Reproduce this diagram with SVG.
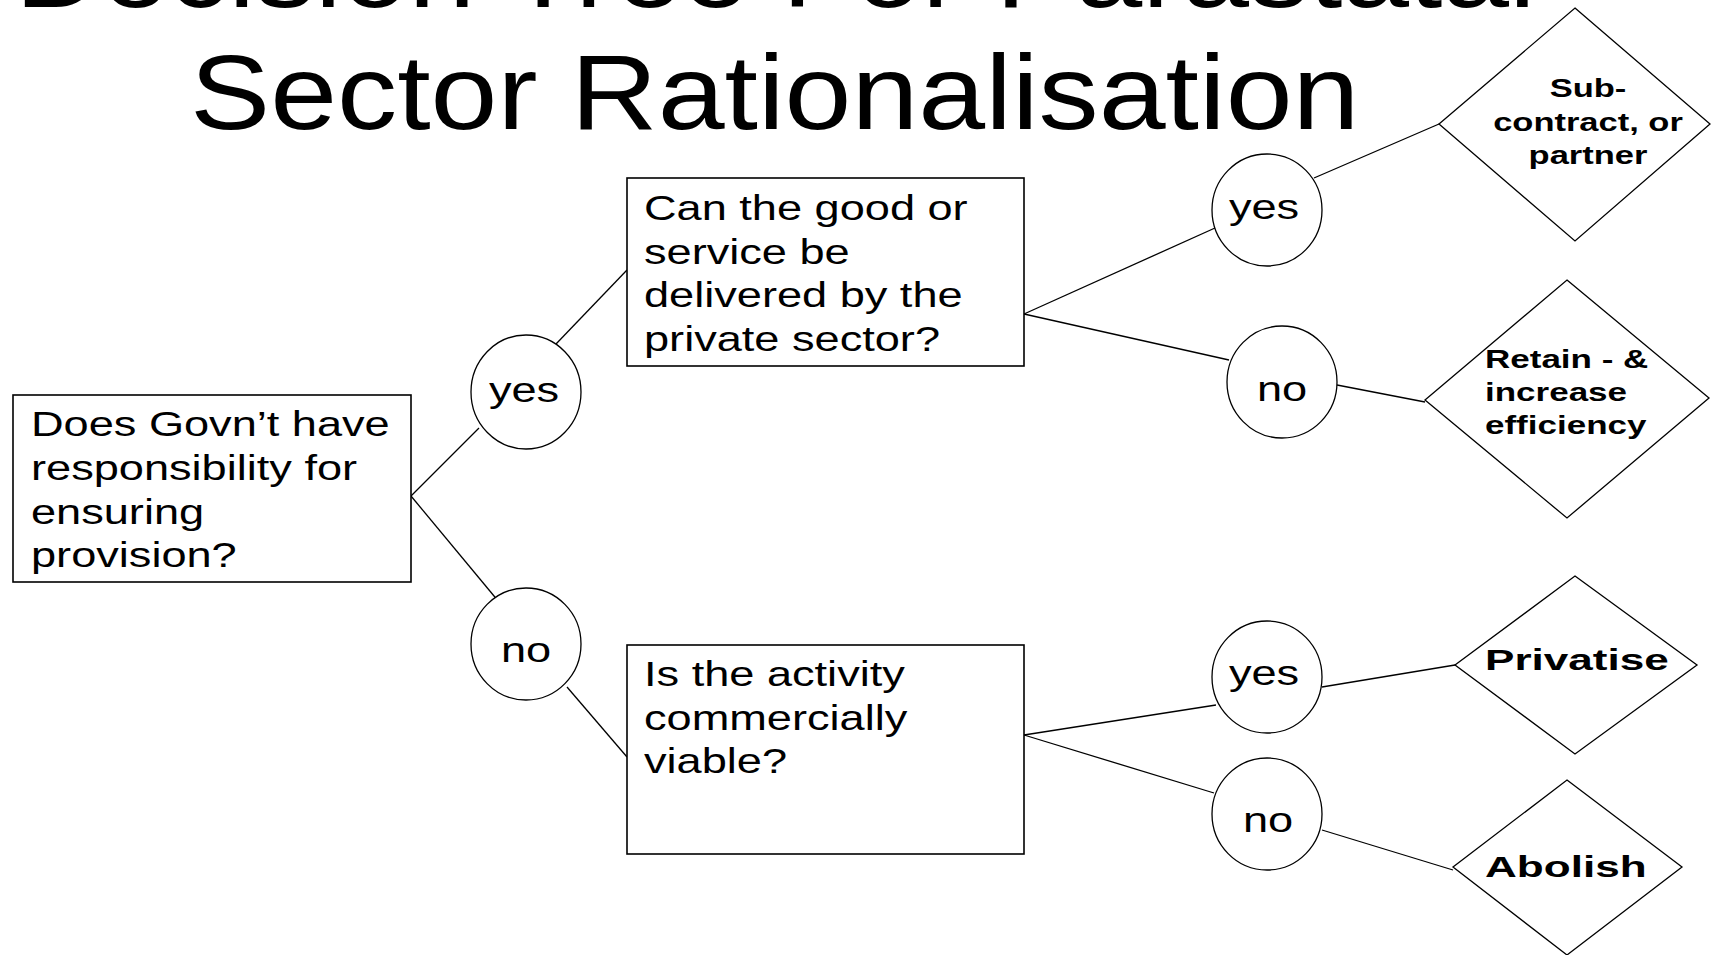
<svg xmlns="http://www.w3.org/2000/svg" width="1716" height="955" viewBox="0 0 1716 955">
<style>
  .bg{fill:#ffffff}
  .box{fill:#ffffff;stroke:#000;stroke-width:1.6}
  .circ{fill:#ffffff;stroke:#000;stroke-width:1.3}
  .dia{fill:#ffffff;stroke:#000;stroke-width:1.3}
  .edge{stroke:#000;stroke-width:1.3;fill:none}
  .t{font-family:"Liberation Sans",Arial,sans-serif;font-size:35px;fill:#000}
  .lbl{font-family:"Liberation Sans",Arial,sans-serif;font-size:35px;fill:#000;text-anchor:middle}
  .b{font-family:"Liberation Sans",Arial,sans-serif;font-weight:bold;font-size:25px;fill:#000}
  .bc{font-family:"Liberation Sans",Arial,sans-serif;font-weight:bold;font-size:25px;fill:#000;text-anchor:middle}
  .bl{font-family:"Liberation Sans",Arial,sans-serif;font-weight:bold;font-size:29px;fill:#000}
  .title{font-family:"Liberation Sans",Arial,sans-serif;font-size:105px;fill:#000}
</style>
<rect class="bg" x="0" y="0" width="1716" height="955"/>

<g id="title">
  <g transform="translate(15,0) scale(1.143,1)"><text class="title" x="0" y="7">Decision Tree For Parastatal</text></g>
  <g transform="translate(190,0) scale(1.145,1)"><text class="title" x="0" y="129">Sector Rationalisation</text></g>
</g>

<g id="connectors">
  <line class="edge" x1="411" y1="496" x2="479" y2="428"/>
  <line class="edge" x1="556" y1="344" x2="627" y2="270"/>
  <line class="edge" x1="411" y1="496" x2="499" y2="602"/>
  <line class="edge" x1="567" y1="687" x2="627" y2="757"/>
  <line class="edge" x1="1024" y1="314" x2="1215" y2="228"/>
  <line class="edge" x1="1024" y1="314" x2="1229" y2="360"/>
  <line class="edge" x1="1314" y1="178" x2="1439" y2="124"/>
  <line class="edge" x1="1337" y1="385" x2="1425" y2="402"/>
  <line class="edge" x1="1024" y1="735" x2="1216" y2="705"/>
  <line class="edge" x1="1024" y1="735" x2="1214" y2="793"/>
  <line class="edge" x1="1322" y1="687" x2="1455" y2="665"/>
  <line class="edge" x1="1322" y1="830" x2="1453" y2="870"/>
</g>

<g id="q-govt">
  <rect class="box" x="13" y="395" width="398" height="187"/>
  <g transform="translate(31,0) scale(1.29,1)">
    <text class="t" x="0" y="436">Does Govn’t have</text>
    <text class="t" x="0" y="480">responsibility for</text>
    <text class="t" x="0" y="524">ensuring</text>
    <text class="t" x="0" y="567">provision?</text>
  </g>
</g>

<g id="q-private">
  <rect class="box" x="627" y="178" width="397" height="188"/>
  <g transform="translate(644,0) scale(1.29,1)">
    <text class="t" x="0" y="220">Can the good or</text>
    <text class="t" x="0" y="264">service be</text>
    <text class="t" x="0" y="307">delivered by the</text>
    <text class="t" x="0" y="351">private sector?</text>
  </g>
</g>

<g id="q-viable">
  <rect class="box" x="627" y="645" width="397" height="209"/>
  <g transform="translate(644,0) scale(1.29,1)">
    <text class="t" x="0" y="686">Is the activity</text>
    <text class="t" x="0" y="730">commercially</text>
    <text class="t" x="0" y="773">viable?</text>
  </g>
</g>

<g id="c-yes1">
  <ellipse class="circ" cx="526" cy="392" rx="55" ry="57"/>
  <g transform="translate(524,0) scale(1.29,1)"><text class="lbl" x="0" y="402">yes</text></g>
</g>
<g id="c-no1">
  <ellipse class="circ" cx="526" cy="644" rx="55" ry="56"/>
  <g transform="translate(526,0) scale(1.29,1)"><text class="lbl" x="0" y="662">no</text></g>
</g>
<g id="c-yes2">
  <ellipse class="circ" cx="1267" cy="210" rx="55" ry="56"/>
  <g transform="translate(1264,0) scale(1.29,1)"><text class="lbl" x="0" y="219">yes</text></g>
</g>
<g id="c-no2">
  <ellipse class="circ" cx="1282" cy="382" rx="55" ry="56"/>
  <g transform="translate(1282,0) scale(1.29,1)"><text class="lbl" x="0" y="401">no</text></g>
</g>
<g id="c-yes3">
  <ellipse class="circ" cx="1267" cy="677" rx="55" ry="56"/>
  <g transform="translate(1264,0) scale(1.29,1)"><text class="lbl" x="0" y="685">yes</text></g>
</g>
<g id="c-no3">
  <ellipse class="circ" cx="1267" cy="814" rx="55" ry="56"/>
  <g transform="translate(1268,0) scale(1.29,1)"><text class="lbl" x="0" y="832">no</text></g>
</g>

<g id="d-subcontract">
  <polygon class="dia" points="1575,8 1710,124 1575,241 1439,124"/>
  <g transform="translate(1588,0) scale(1.38,1)">
    <text class="bc" x="0" y="97">Sub-</text>
    <text class="bc" x="0" y="131">contract, or</text>
    <text class="bc" x="0" y="164">partner</text>
  </g>
</g>

<g id="d-retain">
  <polygon class="dia" points="1567,280 1709,398 1567,518 1425,400"/>
  <g transform="translate(1485,0) scale(1.4,1)">
    <text class="b" x="0" y="368">Retain - &amp;</text>
    <text class="b" x="0" y="401">increase</text>
    <text class="b" x="0" y="434">efficiency</text>
  </g>
</g>

<g id="d-privatise">
  <polygon class="dia" points="1575,576 1697,665 1575,754 1455,665"/>
  <g transform="translate(1485,0) scale(1.52,1)"><text class="bl" x="0" y="670">Privatise</text></g>
</g>

<g id="d-abolish">
  <polygon class="dia" points="1567,780 1682,867 1567,955 1453,867"/>
  <g transform="translate(1485,0) scale(1.52,1)"><text class="bl" x="0" y="877">Abolish</text></g>
</g>
</svg>
